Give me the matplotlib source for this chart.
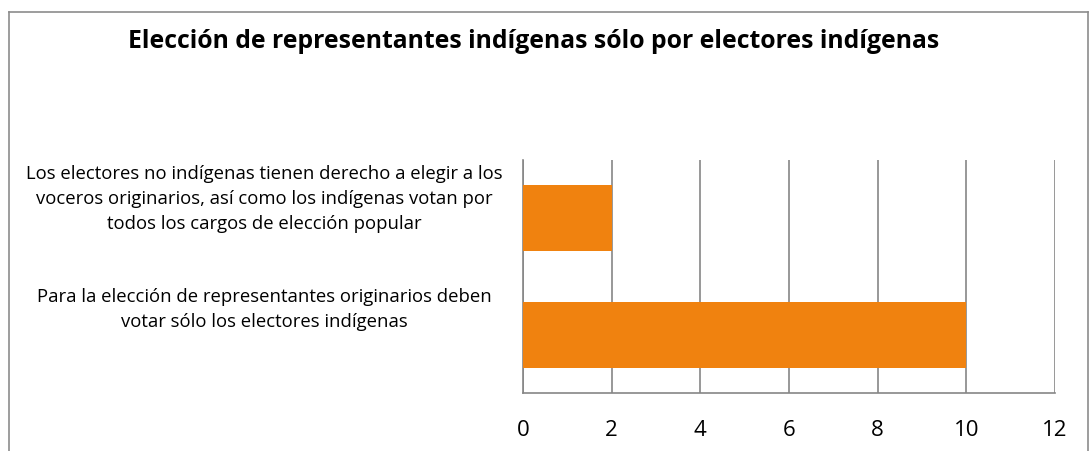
import matplotlib.pyplot as plt
from matplotlib.lines import Line2D
from matplotlib.transforms import ScaledTranslation

title = "Elección de representantes indígenas sólo por electores indígenas"
categories = [
    "Para la elección de representantes originarios deben\nvotar sólo los electores indígenas",
    "Los electores no indígenas tienen derecho a elegir a los\nvoceros originarios, así como los indígenas votan por\ntodos los cargos de elección popular",
]
values = [10, 2]
xticks = [0, 2, 4, 6, 8, 10, 12]

plt.rcParams["font.family"] = ["Open Sans", "DejaVu Sans"]

W, H = 1092, 452
fig = plt.figure(figsize=(W / 100, H / 100), dpi=100)
ax = fig.add_axes([523 / W, 1 - 394 / H, (1055 - 523) / W, (394 - 161) / H])

ax.barh(range(len(values)), values, height=0.567, color="#F0820F", zorder=3)
ax.set_ylim(-0.5, 1.5)
ax.set_xlim(0, 12)
ax.set_xticks(xticks)
ax.set_xticklabels([str(t) for t in xticks], fontsize=16)
ax.set_yticks(range(len(categories)))
ax.set_yticklabels(categories, fontsize=13.3, ha="center", linespacing=1.52)
ax.tick_params(axis="y", length=0, pad=186)
ax.tick_params(axis="x", length=0, pad=19)
ax.grid(axis="x", color="#868686", linewidth=1.2, zorder=0)
for s in ["top", "right"]:
    ax.spines[s].set_visible(False)
for s in ["left", "bottom"]:
    ax.spines[s].set_color("#868686")
    ax.spines[s].set_linewidth(1.2)

# category labels sit a bit above their bar centres, as in the original
for lbl, dy in zip(ax.get_yticklabels(), [23, 18.5]):
    lbl.set_transform(lbl.get_transform() + ScaledTranslation(0, dy / 72, fig.dpi_scale_trans))

fig.text(534 / W, 1 - 42 / H, title, ha="center", va="center",
         fontsize=17.8, fontweight="bold")

# outer chart frame (bottom edge is cut off)
fc = "#8c8c8c"
x0, x1, y0 = 8.5 / W, 1087.5 / W, 1 - 12.5 / H
fig.add_artist(Line2D([x0, x0], [0, y0], transform=fig.transFigure, color=fc, lw=1.2))
fig.add_artist(Line2D([x0, x1], [y0, y0], transform=fig.transFigure, color=fc, lw=1.2))
fig.add_artist(Line2D([x1, x1], [0, y0], transform=fig.transFigure, color=fc, lw=1.2))

fig.savefig("out.png", dpi=100)
